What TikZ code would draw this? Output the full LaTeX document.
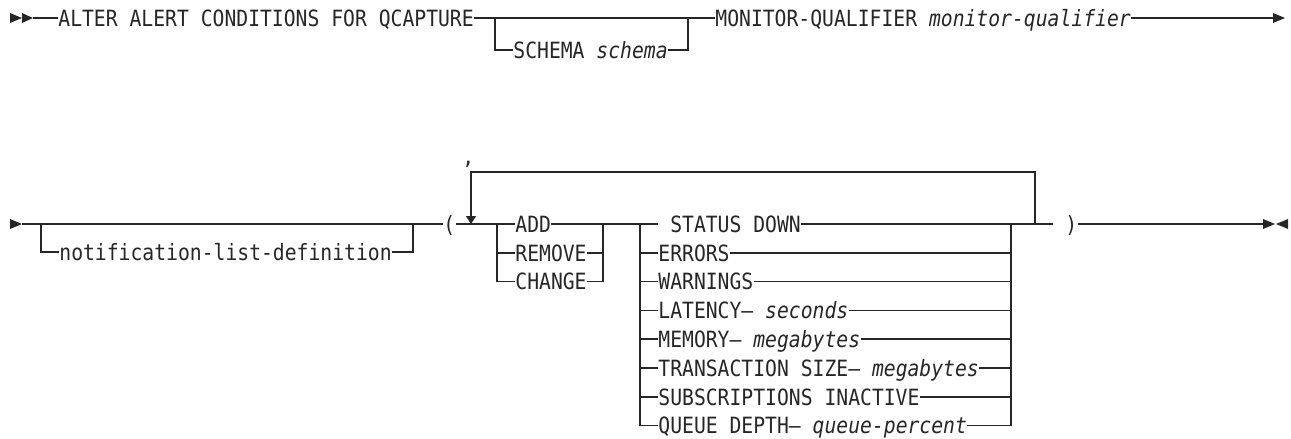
\documentclass[tikz,border=0pt]{standalone}
\usepackage{fontspec}
\setmonofont[FakeStretch=0.88]{DejaVu Sans Mono}
\usetikzlibrary{arrows.meta}

\begin{document}
\begin{tikzpicture}[
    x=0.5pt, y=-0.5pt,
    rail/.style={
        draw=black!85, line width=0.75pt,
    },
    kw/.style={
        font=\fontsize{11.2}{13}\selectfont\ttfamily,
        text=black!85,
        inner sep=0pt,
        text height=8.2pt, text depth=0pt,
        anchor=west,
    },
    tip/.style={
        fill=black!85,
    },
    loop/.style={
        rail, -{Triangle[length=4pt,width=5pt]},
    },
]
\useasboundingbox (0,0) rectangle (1291,439);

% first line: command, optional schema, qualifier
\coordinate (s1) at (33,18);
\node[kw] (alter) at (58,18) {ALTER ALERT CONDITIONS FOR QCAPTURE};
\coordinate (sb) at (495,18);
\coordinate (se) at (688,18);
\node[kw] (schema) at (513,50) {SCHEMA \textit{schema}};
\node[kw] (monitor) at (715,18) {MONITOR-QUALIFIER \textit{monitor-qualifier}};
\coordinate (e1) at (1273,18);

\draw[rail] (s1) -- (alter.west);
\draw[rail] (alter.east) -- (sb) -- (se) -- (monitor.west);
\draw[rail] (sb) |- (schema.west);
\draw[rail] (schema.east) -| (se);
\draw[rail] (monitor.east) -- (e1);

\fill[tip] (10,13) -- (22,18) -- (10,23) -- cycle;
\fill[tip] (22,13) -- (33,18) -- (22,23) -- cycle;
\fill[tip] (1273,13) -- (1285,18) -- (1273,23) -- cycle;

% second line: notification list, repeated conditions
\coordinate (s2) at (22,224);
\coordinate (nb) at (41,224);
\coordinate (ne) at (413,224);
\node[kw] (notif) at (59,252) {notification-list-definition};
\node[kw] (lpar) at (443,224) {(};

\coordinate (ab) at (497,224);
\coordinate (ae) at (603,224);
\node[kw] (add) at (515,224) {ADD};
\node[kw] (remove) at (515,252.8) {REMOVE};
\node[kw] (change) at (515,281.6) {CHANGE};

\coordinate (cb) at (640,224);
\coordinate (ce) at (1011,224);
\node[kw] (status) at (658,224) {\ STATUS DOWN};
\node[kw] (errors) at (658,252.8) {ERRORS};
\node[kw] (warnings) at (658,281.6) {WARNINGS};
\node[kw] (latency) at (658,310.4) {LATENCY—\ \textit{seconds}};
\node[kw] (memory) at (658,339.2) {MEMORY—\ \textit{megabytes}};
\node[kw] (txsize) at (658,368) {TRANSACTION SIZE—\ \textit{megabytes}};
\node[kw] (subs) at (658,396.8) {SUBSCRIPTIONS INACTIVE};
\node[kw] (queue) at (658,425.6) {QUEUE DEPTH—\ \textit{queue-percent}};

\node[kw] (rpar) at (1053,224) {\ )};
\coordinate (e2) at (1263,224);

\draw[rail] (s2) -- (nb) -- (ne) -- (lpar.west);
\draw[rail] (nb) |- (notif.west);
\draw[rail] (notif.east) -| (ne);
\draw[rail] (lpar.east) -- (ab) -- (add.west);
\draw[rail] (add.east) -- (ae) -- (cb) -- (status.west);
\draw[rail] (status.east) -- (ce) -- (rpar.west);
\draw[rail] (rpar.east) -- (e2);

\foreach \n in {remove, change} {
    \draw[rail] (ab) |- (\n.west);
    \draw[rail] (\n.east) -| (ae);
}
\foreach \n in {errors, warnings, latency, memory, txsize, subs, queue} {
    \draw[rail] (cb) |- (\n.west);
    \draw[rail] (\n.east) -| (ce);
}

% repeat loop with separator
\coordinate (lb) at (471,224);
\coordinate (lt) at (471,172);
\coordinate (rt) at (1035,172);
\coordinate (rb) at (1035,224);
\draw[loop] (rb) -- (rt) -- (lt) -- (lb);
\node[kw, anchor=base west] (comma) at (462,164) {,};

\fill[tip] (10,219) -- (22,224) -- (10,229) -- cycle;
\fill[tip] (1263,219) -- (1275,224) -- (1263,229) -- cycle;
\fill[tip] (1288,219) -- (1276,224) -- (1288,229) -- cycle;

\end{tikzpicture}
\end{document}
